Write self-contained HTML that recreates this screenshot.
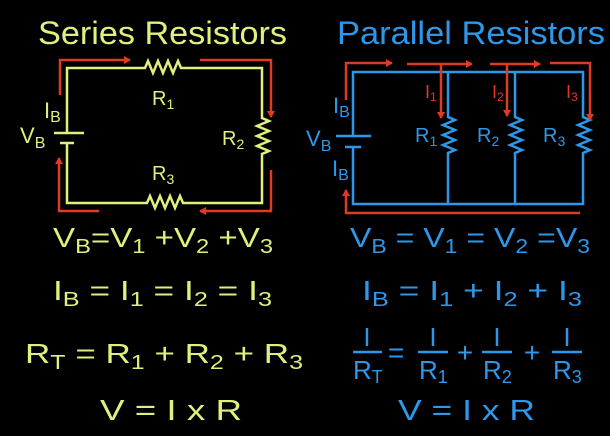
<!DOCTYPE html>
<html><head><meta charset="utf-8"><style>
html,body{margin:0;padding:0;background:#000;width:610px;height:436px;overflow:hidden}
svg{display:block}
text{font-family:"Liberation Sans",sans-serif}
.y{fill:#e2ef7c}.b{fill:#2d98ea}.r{fill:#e03a22}
</style></head><body>
<svg width="610" height="436" viewBox="0 0 610 436" xmlns="http://www.w3.org/2000/svg">
<defs>
<marker id="ar" markerWidth="8" markerHeight="8" refX="6" refY="4" orient="auto" markerUnits="userSpaceOnUse"><path d="M0,0 L7,4 L0,8 z" fill="#e03a22"/></marker>
</defs>
<!-- titles -->
<text class="y" x="38" y="44" font-size="32" textLength="249" lengthAdjust="spacingAndGlyphs">Series Resistors</text>
<text class="b" x="337" y="44" font-size="32" textLength="268" lengthAdjust="spacingAndGlyphs">Parallel Resistors</text>

<!-- series circuit -->
<g fill="none" stroke="#e2ef7c" stroke-width="2.5">
<path d="M67,133 V68 H145 l3,-7 l5,12 l5,-12 l5,12 l5,-12 l5,12 l5,-12 l3,7 H262 V118 l7,3 l-12,5 l12,5 l-12,5 l12,5 l-12,5 l12,5 l-7,3 V203 H183 l-3,-7 l-5,12 l-5,-12 l-5,12 l-5,-12 l-5,12 l-5,-12 l-3,7 H67 V143"/>
<line x1="54" y1="133" x2="84" y2="133"/>
<line x1="60" y1="143" x2="74" y2="143"/>
</g>
<g fill="none" stroke="#e03a22" stroke-width="2.5">
<path d="M60,95 V60 H130" marker-end="url(#ar)"/>
<path d="M200,60 H271 V117" marker-end="url(#ar)"/>
<path d="M271,170 V211 H200" marker-end="url(#ar)"/>
<path d="M99,211 H59 V158" marker-end="url(#ar)"/>
</g>
<text class="y" x="44" y="118" font-size="22">I<tspan font-size="16" dy="4">B</tspan></text>
<text class="y" x="20" y="143" font-size="22">V<tspan font-size="16" dy="5">B</tspan></text>
<text class="y" x="152" y="105" font-size="20">R<tspan font-size="14" dy="4">1</tspan></text>
<text class="y" x="222" y="145" font-size="20">R<tspan font-size="14" dy="4">2</tspan></text>
<text class="y" x="152" y="180" font-size="20">R<tspan font-size="14" dy="4">3</tspan></text>

<!-- parallel circuit -->
<g fill="none" stroke="#2d98ea" stroke-width="2.5">
<path d="M353,136 V72 H583 V117 l7,3 l-12,5 l12,5 l-12,5 l12,5 l-12,5 l12,5 l-7,3 V204 H353 V147"/>
<path d="M448,72 V117 l7,3 l-12,5 l12,5 l-12,5 l12,5 l-12,5 l12,5 l-7,3 V204"/>
<path d="M515,72 V117 l7,3 l-12,5 l12,5 l-12,5 l12,5 l-12,5 l12,5 l-7,3 V204"/>
<line x1="336" y1="136" x2="371" y2="136"/>
<line x1="345" y1="147" x2="361" y2="147"/>
</g>
<g fill="none" stroke="#e03a22" stroke-width="2.5">
<path d="M346,100 V63 H392" marker-end="url(#ar)"/>
<path d="M407,64 H472" marker-end="url(#ar)"/>
<path d="M490,64 H540" marker-end="url(#ar)"/>
<path d="M550,63 H590 V120" marker-end="url(#ar)"/>
<path d="M441,64 V118" marker-end="url(#ar)"/>
<path d="M507,64 V116" marker-end="url(#ar)"/>
<path d="M580,213 H346 V190" marker-end="url(#ar)"/>
</g>
<text class="r" x="425" y="98" font-size="18">I<tspan font-size="12" dy="3">1</tspan></text>
<text class="r" x="492" y="98" font-size="18">I<tspan font-size="12" dy="3">2</tspan></text>
<text class="r" x="566" y="98" font-size="18">I<tspan font-size="12" dy="3">3</tspan></text>
<text class="b" x="333" y="113" font-size="22">I<tspan font-size="16" dy="4">B</tspan></text>
<text class="b" x="306" y="146" font-size="22">V<tspan font-size="16" dy="5">B</tspan></text>
<text class="b" x="332" y="176" font-size="22">I<tspan font-size="16" dy="4">B</tspan></text>
<text class="b" x="415" y="142" font-size="20">R<tspan font-size="14" dy="4">1</tspan></text>
<text class="b" x="477" y="142" font-size="20">R<tspan font-size="14" dy="4">2</tspan></text>
<text class="b" x="543" y="142" font-size="20">R<tspan font-size="14" dy="4">3</tspan></text>

<!-- series equations -->
<text class="y" x="53" y="247" font-size="28" textLength="220" lengthAdjust="spacingAndGlyphs">V<tspan font-size="20" dy="6">B</tspan><tspan dy="-6">=V</tspan><tspan font-size="20" dy="6">1</tspan><tspan dy="-6"> +V</tspan><tspan font-size="20" dy="6">2</tspan><tspan dy="-6"> +V</tspan><tspan font-size="20" dy="6">3</tspan></text>
<text class="y" x="53" y="300" font-size="28" textLength="219" lengthAdjust="spacingAndGlyphs">I<tspan font-size="20" dy="6">B</tspan><tspan dy="-6"> = I</tspan><tspan font-size="20" dy="6">1</tspan><tspan dy="-6"> = I</tspan><tspan font-size="20" dy="6">2</tspan><tspan dy="-6"> = I</tspan><tspan font-size="20" dy="6">3</tspan></text>
<text class="y" x="25" y="363" font-size="28" textLength="278" lengthAdjust="spacingAndGlyphs">R<tspan font-size="20" dy="6">T</tspan><tspan dy="-6"> = R</tspan><tspan font-size="20" dy="6">1</tspan><tspan dy="-6"> + R</tspan><tspan font-size="20" dy="6">2</tspan><tspan dy="-6"> + R</tspan><tspan font-size="20" dy="6">3</tspan></text>
<text class="y" x="100" y="420" font-size="29" textLength="142" lengthAdjust="spacingAndGlyphs">V = I x R</text>

<!-- parallel equations -->
<text class="b" x="350" y="247" font-size="28" textLength="240" lengthAdjust="spacingAndGlyphs">V<tspan font-size="20" dy="6">B</tspan><tspan dy="-6"> = V</tspan><tspan font-size="20" dy="6">1</tspan><tspan dy="-6"> = V</tspan><tspan font-size="20" dy="6">2</tspan><tspan dy="-6"> =V</tspan><tspan font-size="20" dy="6">3</tspan></text>
<text class="b" x="362" y="300" font-size="28" textLength="220" lengthAdjust="spacingAndGlyphs">I<tspan font-size="20" dy="6">B</tspan><tspan dy="-6"> = I</tspan><tspan font-size="20" dy="6">1</tspan><tspan dy="-6"> + I</tspan><tspan font-size="20" dy="6">2</tspan><tspan dy="-6"> + I</tspan><tspan font-size="20" dy="6">3</tspan></text>
<g stroke="#2d98ea" stroke-width="2.5">
<line x1="353" y1="352" x2="382" y2="352"/>
<line x1="418" y1="352" x2="448" y2="352"/>
<line x1="482" y1="352" x2="512" y2="352"/>
<line x1="552" y1="352" x2="582" y2="352"/>
</g>
<g class="b" font-size="26" text-anchor="middle">
<text x="367" y="346">I</text><text x="433" y="346">I</text><text x="497" y="346">I</text><text x="567" y="346">I</text>
<text x="396" y="362" font-size="28">=</text>
<text x="465" y="362" font-size="28">+</text>
<text x="532" y="362" font-size="28">+</text>
</g>
<text class="b" x="353" y="379" font-size="26">R<tspan font-size="18" dy="4">T</tspan></text>
<text class="b" x="419" y="379" font-size="26">R<tspan font-size="18" dy="4">1</tspan></text>
<text class="b" x="483" y="379" font-size="26">R<tspan font-size="18" dy="4">2</tspan></text>
<text class="b" x="553" y="379" font-size="26">R<tspan font-size="18" dy="4">3</tspan></text>
<text class="b" x="398" y="420" font-size="29" textLength="137" lengthAdjust="spacingAndGlyphs">V = I x R</text>
</svg>
</body></html>
